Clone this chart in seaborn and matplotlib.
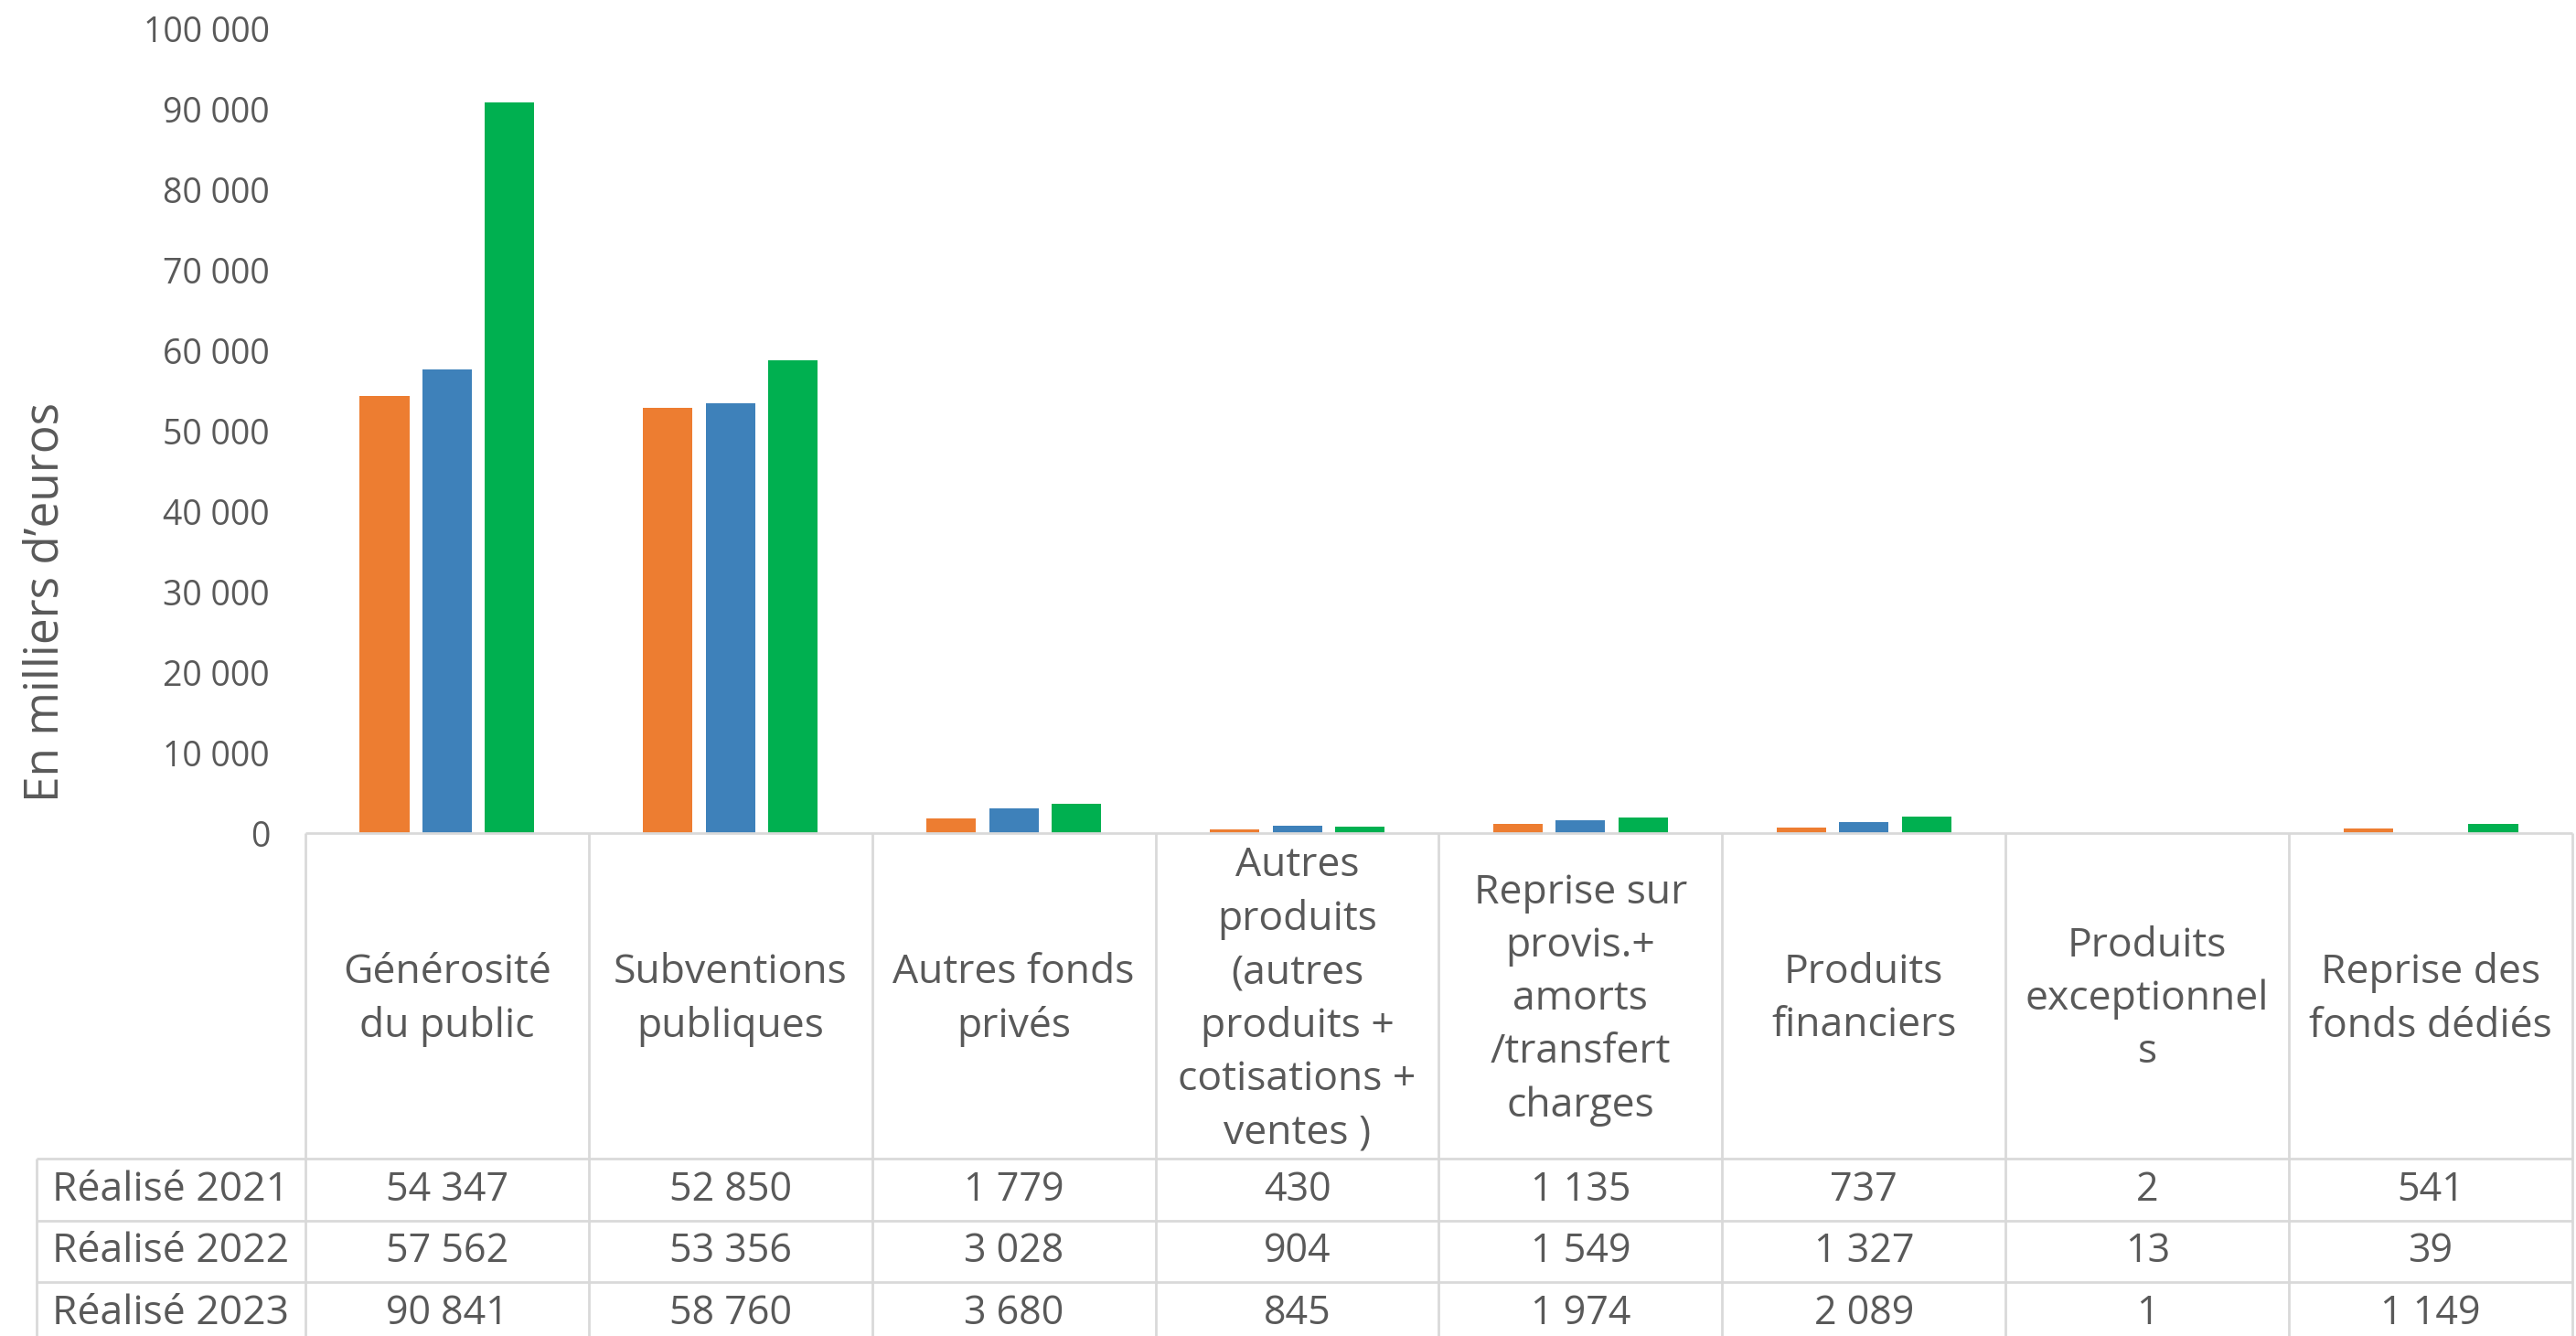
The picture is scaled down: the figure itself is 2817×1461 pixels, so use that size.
import matplotlib
matplotlib.use("Agg")
import matplotlib.pyplot as plt
import pandas as pd
import seaborn as sns

# Data (en milliers d'euros)
categories = [
    "Générosité\ndu public",
    "Subventions\npubliques",
    "Autres fonds\nprivés",
    "Autres\nproduits\n(autres\nproduits +\ncotisations +\nventes )",
    "Reprise sur\nprovis.+\namorts\n/transfert\ncharges",
    "Produits\nfinanciers",
    "Produits\nexceptionnel\ns",
    "Reprise des\nfonds dédiés",
]
series_names = ["Réalisé 2021", "Réalisé 2022", "Réalisé 2023"]
realise_2021 = [54347, 52850, 1779, 430, 1135, 737, 2, 541]
realise_2022 = [57562, 53356, 3028, 904, 1549, 1327, 13, 39]
realise_2023 = [90841, 58760, 3680, 845, 1974, 2089, 1, 1149]
y_ticks = list(range(0, 100001, 10000))

colors = ["#ED7D31", "#3E81BA", "#00B050"]
text_color = "#595959"
grid_color = "#D9D9D9"

sns.set_style("white")
plt.rcParams["font.family"] = ["Open Sans", "DejaVu Sans"]


def fmt(v):
    return f"{int(v):,}".replace(",", " ")


df = pd.DataFrame({
    "categorie": categories * 3,
    "annee": [s for s in series_names for _ in categories],
    "valeur": realise_2021 + realise_2022 + realise_2023,
})

W, H = 2817, 1461
fig = plt.figure(figsize=(W / 100, H / 100), dpi=100)

# plot area (pixel layout)
left, right, top, zero = 334, 2813, 31, 911
ax = fig.add_axes([left / W, 1 - zero / H, (right - left) / W, (zero - top) / H])
sns.barplot(data=df, x="categorie", y="valeur", hue="annee", palette=colors,
            width=0.663, gap=0.21, saturation=1, legend=False, ax=ax,
            linewidth=0)
ax.set_xlim(-0.5, len(categories) - 0.5)
ax.set_ylim(0, 100000)
ax.set_yticks(y_ticks)
ax.set_yticklabels([fmt(t) for t in y_ticks], fontsize=27, color=text_color)
ax.tick_params(axis="y", length=0, pad=28)
ax.tick_params(axis="x", length=0, labelbottom=False)
ax.set_xlabel("")
ax.set_ylabel("")
for s in ax.spines.values():
    s.set_visible(False)

fig.text(50 / W, 1 - 658 / H, "En milliers d\u2019euros", rotation=90,
         ha="center", va="center", fontsize=37, color=text_color)

# data table below the chart
cat_w = (right - left) / len(categories)
table_left = 40
tab = fig.add_axes([table_left / W, 0, (right - table_left) / W, (H - zero) / H])
x0 = -0.5 - (left - table_left) / cat_w
x1 = len(categories) - 0.5
tab.set_xlim(x0, x1)
tab.set_ylim(H, zero)
tab.axis("off")

header_bottom = 1267
row_h = 67.5
row_edges = [header_bottom + i * row_h for i in range(len(series_names) + 1)]
lw = 2.0
tab.hlines(zero, -0.5, x1, color=grid_color, lw=lw, clip_on=False)
for y in row_edges:
    tab.hlines(y, x0, x1, color=grid_color, lw=lw, clip_on=False)
for i in range(len(categories) + 1):
    tab.vlines(i - 0.5, zero, H + 20, color=grid_color, lw=lw, clip_on=False)
tab.vlines(x0, header_bottom, H + 20, color=grid_color, lw=lw, clip_on=False)

for i, c in enumerate(categories):
    tab.text(i, (zero + header_bottom) / 2 + 4, c, ha="center", va="center",
             fontsize=32, color=text_color, linespacing=1.41, multialignment="center")

for r, (name, vals) in enumerate(zip(series_names, [realise_2021, realise_2022, realise_2023])):
    yc = row_edges[r] + row_h / 2 + 1
    tab.text(x0 + 17 / cat_w, yc, name, ha="left", va="center",
             fontsize=32, color=text_color)
    for i, v in enumerate(vals):
        tab.text(i, yc, fmt(v), ha="center", va="center",
                 fontsize=31, color=text_color)

fig.savefig("out.png", dpi=100, facecolor="white")
